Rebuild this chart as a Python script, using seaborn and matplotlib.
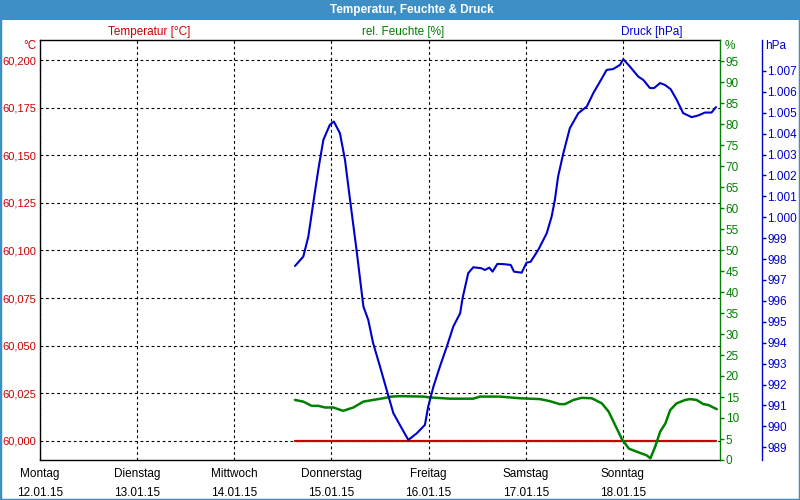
import numpy as np
import pandas as pd
import seaborn as sns
import matplotlib.pyplot as plt
import matplotlib.ticker as ticker
from matplotlib.patches import Rectangle

# hours since Montag 12.01.15 00:00
druck_h = [63.0, 65.05, 66.3, 67.5, 68.75, 70.0, 71.6, 72.6, 74.1, 75.35, 76.6, 78.2,
           79.9, 81.1, 82.3, 84.0, 85.65, 87.3, 88.9, 91.0, 93.1, 95.1, 95.9, 97.2,
           98.8, 100.5, 102.1, 103.8, 104.4, 105.8, 107.05, 109.1, 109.9, 111.0, 111.8,
           113.0, 114.5, 116.3, 117.1, 119.0, 120.2, 121.2, 123.1, 125.2, 126.4, 127.2,
           128.0, 129.3, 130.9, 133.0, 135.1, 136.7, 138.35, 140.0, 141.6, 143.3, 144.1,
           145.75, 147.8, 149.05, 150.7, 151.7, 153.2, 154.4, 155.8, 157.3, 158.9, 161.0,
           162.6, 164.3, 165.9, 167.0]
druck = [997.67, 998.12, 999.08, 1000.67, 1002.27, 1003.70, 1004.42, 1004.58, 1004.02,
         1002.75, 1000.83, 998.44, 995.73, 995.09, 993.98, 992.86, 991.74, 990.63, 990.07,
         989.35, 989.67, 990.07, 990.94, 991.90, 992.86, 993.81, 994.77, 995.41, 996.13,
         997.33, 997.61, 997.56, 997.48, 997.59, 997.40, 997.77, 997.76, 997.72, 997.40,
         997.35, 997.83, 997.87, 998.44, 999.24, 1000.03, 1000.83, 1001.95, 1003.07,
         1004.26, 1004.98, 1005.30, 1005.94, 1006.49, 1007.05, 1007.09, 1007.29, 1007.56,
         1007.21, 1006.73, 1006.57, 1006.18, 1006.18, 1006.42, 1006.33, 1006.13, 1005.62,
         1004.98, 1004.79, 1004.87, 1005.01, 1005.01, 1005.27]

feuchte_h = [63.0, 65.05, 67.1, 68.75, 70.4, 72.5, 74.9, 77.4, 79.9, 82.3, 84.8, 86.9,
             89.0, 94.7, 96.3, 101.3, 107.0, 108.7, 113.6, 118.6, 123.5, 126.0, 128.4,
             129.7, 131.8, 133.8, 136.3, 138.8, 140.5, 142.2, 143.8, 145.5, 147.1, 149.9,
             150.8, 152.0, 153.2, 154.5, 155.7, 157.3, 159.4, 160.6, 162.2, 163.9, 165.1,
             167.2]
feuchte = [14.3, 13.9, 12.9, 12.9, 12.5, 12.5, 11.7, 12.5, 13.9, 14.3, 14.7, 15.1,
           15.2, 15.1, 14.9, 14.6, 14.6, 15.1, 15.1, 14.7, 14.5, 14.0, 13.3, 13.3, 14.3,
           14.8, 14.7, 13.5, 11.5, 8.1, 4.9, 2.7, 2.1, 1.1, 0.4, 3.2, 6.7, 8.7, 11.9,
           13.5, 14.3, 14.5, 14.3, 13.3, 13.1, 12.1]

temp_h = [63.0, 167.0]
temp = [60.0, 60.0]

day_names = ["Montag", "Dienstag", "Mittwoch", "Donnerstag", "Freitag", "Samstag", "Sonntag"]
day_dates = ["12.01.15", "13.01.15", "14.01.15", "15.01.15", "16.01.15", "17.01.15", "18.01.15"]

temp_ticks = [60.0, 60.025, 60.05, 60.075, 60.1, 60.125, 60.15, 60.175, 60.2]
feuchte_ticks = list(range(0, 100, 5))
druck_ticks = list(range(989, 1008))

RED = "#cc0000"
GREEN = "#008000"
BLUE = "#0000cc"
BAR = "#3d8fc6"

sns.set_style("white")
plt.rcParams["font.family"] = ["Liberation Sans", "DejaVu Sans"]
plt.rcParams["font.size"] = 8

df_t = pd.DataFrame({"h": temp_h, "v": temp})
df_f = pd.DataFrame({"h": feuchte_h, "v": feuchte})
df_d = pd.DataFrame({"h": druck_h, "v": druck})

fig = plt.figure(figsize=(8, 5), dpi=100)
ax = fig.add_axes([0.05, 0.08, 0.85, 0.84])
ax2 = ax.twinx()
ax3 = ax.twinx()

grid_kw = dict(color="black", lw=0.8, ls=(0, (2.5, 2.5)))

# temperature / main axis
sns.lineplot(data=df_t, x="h", y="v", ax=ax, color=RED, lw=1.6)
ax.set_xlim(0, 168)
ax.set_ylim(59.990, 60.2105)
ax.set_yticks(temp_ticks)
ax.yaxis.set_major_formatter(ticker.FuncFormatter(lambda v, p: f"{v:.3f}".replace(".", ",")))
ax.set_xticks(np.arange(0, 168, 24))
ax.set_xticklabels([f"{n}\n{d}" for n, d in zip(day_names, day_dates)], linespacing=1.7)
ax.tick_params(axis="y", colors=RED, length=0, pad=2.5, labelsize=8)
ax.tick_params(axis="x", colors="black", length=0, pad=6, labelsize=8.5)
ax.grid(True, **grid_kw)
ax.set_xlabel("")
ax.set_ylabel("")
for s in ["left", "bottom", "top"]:
    ax.spines[s].set_color("black")
    ax.spines[s].set_linewidth(1)
ax.spines["right"].set_visible(False)

# humidity
sns.lineplot(data=df_f, x="h", y="v", ax=ax2, color=GREEN, lw=1.8)
ax2.set_ylim(0, 100)
ax2.set_yticks(feuchte_ticks)
ax2.tick_params(axis="y", colors=GREEN, length=3, width=1, pad=1, labelsize=8.5)
ax2.set_ylabel("")
for s in ["left", "top", "bottom"]:
    ax2.spines[s].set_visible(False)
ax2.spines["right"].set_color(GREEN)
ax2.spines["right"].set_linewidth(1)

# pressure
sns.lineplot(data=df_d, x="h", y="v", ax=ax3, color=BLUE, lw=1.5)
ax3.set_ylim(988.39, 1008.48)
ax3.set_yticks(druck_ticks)
ax3.yaxis.set_major_formatter(ticker.FuncFormatter(
    lambda v, p: f"{int(round(v)):,}".replace(",", ".")))
ax3.spines["right"].set_position(("outward", 30))
ax3.tick_params(axis="y", colors=BLUE, length=3, width=1, pad=1, labelsize=8.5)
ax3.set_ylabel("")
for s in ["left", "top", "bottom"]:
    ax3.spines[s].set_visible(False)
ax3.spines["right"].set_color(BLUE)
ax3.spines["right"].set_linewidth(1)
ax.set_xlabel("")

# units at the top of each axis
fig.text(36 / 800, 1 - 46 / 500, "°C", color=RED, ha="right", va="center", fontsize=8.5)
fig.text(725 / 800, 1 - 46 / 500, "%", color=GREEN, ha="left", va="center", fontsize=8.5)
fig.text(765 / 800, 1 - 46 / 500, "hPa", color=BLUE, ha="left", va="center", fontsize=8.5)

# series headings
fig.text(149 / 800, 1 - 32 / 500, "Temperatur [°C]", color=RED, ha="center", va="center", fontsize=8.5)
fig.text(403 / 800, 1 - 32 / 500, "rel. Feuchte [%]", color=GREEN, ha="center", va="center", fontsize=8.5)
fig.text(652 / 800, 1 - 32 / 500, "Druck [hPa]", color=BLUE, ha="center", va="center", fontsize=8.5)

# title bar and frame
fig.add_artist(Rectangle((0, 0.96), 1, 0.04, transform=fig.transFigure,
                         facecolor=BAR, edgecolor="none", zorder=0))
fig.add_artist(Rectangle((0, 0), 1, 1, transform=fig.transFigure,
                         fill=False, edgecolor=BAR, lw=2.5))
fig.text(412 / 800, 0.979, "Temperatur, Feuchte & Druck", color="white", ha="center",
         va="center", fontsize=8.5, fontweight="bold")

fig.savefig("out.png", dpi=100)
